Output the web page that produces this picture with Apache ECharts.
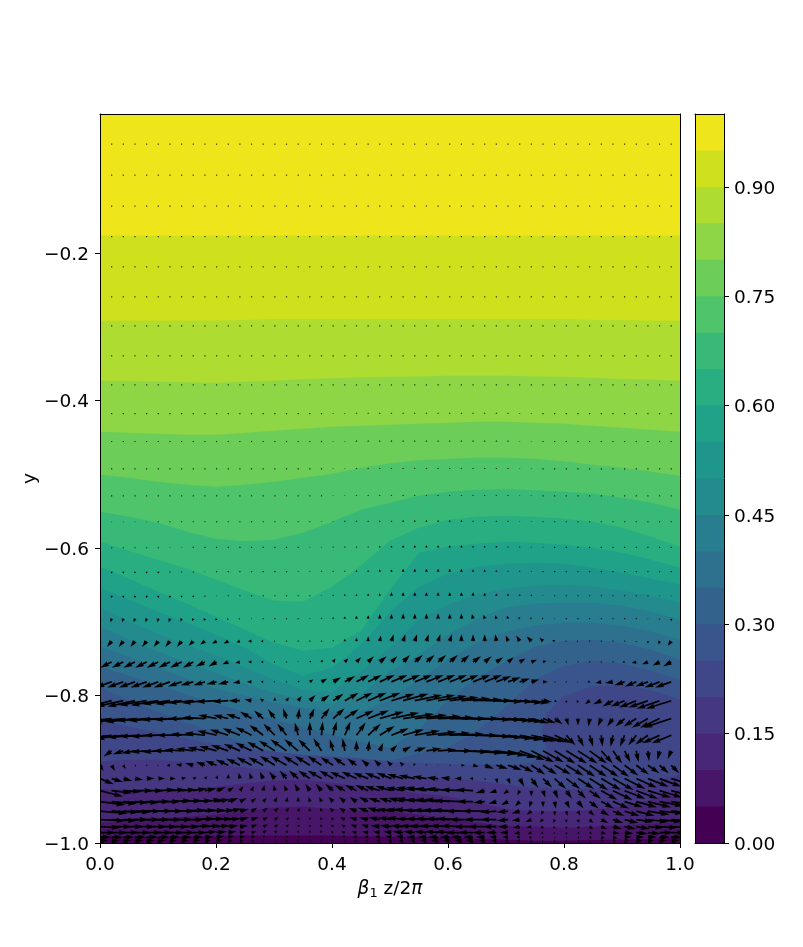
<!DOCTYPE html>
<html><head><meta charset="utf-8"><style>html,body{margin:0;background:#fff}#c{width:803px;height:947px}</style>
<script src="https://cdn.jsdelivr.net/npm/echarts@6/dist/echarts.min.js"></script></head>
<body><div id="c"></div>
<script>
const xTicks=[0,.2,.4,.6,.8,1];
const yTicks=[-1,-.8,-.6,-.4,-.2];
const cbTicks=[0,.15,.3,.45,.6,.75,.9];
const yTop=-0.0117;
const cbLevels=[0,.05,.1,.15,.2,.25,.3,.35,.4,.45,.5,.55,.6,.65,.7,.75,.8,.85,.9,.95,1];
const bandColors=['#440154','#481668','#482778','#453781','#3f4788','#39558c','#33638d','#2d718e','#287d8e','#238a8d','#1f968b','#1fa287','#28ae80','#38b977','#50c46a','#6dcd59','#8ed645','#aedc30','#cfe11c','#eee51b'];
// depth (−y) of each contour level at contourX
const contourX=[0,.05,.1,.15,.2,.25,.3,.35,.4,.45,.5,.55,.6,.65,.7,.75,.8,.85,.9,.95,1];
const b95=[.1763,.1763,.1763,.1763,.1763,.1763,.1763,.1763,.1763,.1763,.1763,.1763,.1763,.1763,.1763,.1763,.1763,.1763,.1763,.1763,.1763];
const b90=[.292,.292,.292,.292,.2915,.291,.290,.2895,.2895,.2895,.2895,.2895,.2895,.2895,.2895,.2895,.2895,.291,.291,.292,.292];
const b85=[.3735,.3741,.3748,.3755,.3762,.3748,.3735,.3714,.3701,.3687,.368,.3674,.3667,.3667,.3667,.3674,.368,.3694,.3708,.3721,.3735];
const b80=[.4425,.4439,.4452,.4466,.4466,.4439,.4412,.4385,.4358,.4344,.4331,.4317,.4304,.4290,.4290,.4304,.4317,.4344,.4371,.4398,.4425];
const b75=[.5008,.5049,.5103,.5144,.5171,.5144,.5103,.5049,.4995,.4913,.4852,.4811,.4791,.4777,.4777,.4791,.4825,.4873,.4913,.4967,.5022];
const b70=[.5510,.5577,.5659,.5781,.5876,.5910,.5889,.5795,.5645,.5483,.5388,.5293,.5239,.5212,.5205,.5218,.5239,.5266,.5320,.5388,.5483];
const b65=[.5916,.6038,.6160,.6282,.6431,.6580,.6716,.6729,.6526,.6241,.5903,.5726,.5618,.5577,.5564,.5577,.5604,.5645,.5726,.5848,.5984];
const b60=[.6255,.6417,.6594,.6756,.6932,.7108,.7285,.7393,.7352,.7122,.6567,.6065,.5984,.5943,.5916,.5930,.5957,.5998,.6065,.6160,.6268];
const b55=[.6539,.6702,.6865,.7014,.7176,.7352,.7583,.7732,.7624,.7312,.6865,.6526,.6350,.6255,.6214,.6201,.6214,.6268,.6336,.6417,.6499];
const b50=[.6810,.7000,.7163,.7312,.7461,.7624,.7786,.7922,.7949,.7678,.7352,.6973,.6770,.6634,.6553,.6512,.6499,.6526,.6580,.6648,.6743];
const b45=[.7068,.7244,.7407,.7556,.7692,.7841,.7963,.8057,.8111,.7990,.7678,.7447,.7176,.6959,.6810,.6756,.6743,.6743,.6783,.6865,.6973];
const b40=[.7339,.7474,.7624,.7773,.7908,.8003,.8098,.8165,.8220,.8220,.8057,.7786,.7515,.7285,.7136,.7054,.7014,.7014,.7054,.7136,.7244];
const b35=[.7610,.7732,.7854,.7990,.8111,.8220,.8328,.8423,.8531,.8626,.8707,.8463,.8057,.7759,.7542,.7339,.7258,.7244,.7285,.7380,.7515];
const b30=[.7895,.8057,.8220,.8369,.8504,.8653,.8762,.8829,.8843,.8870,.8883,.8788,.8707,.8477,.8152,.7786,.7596,.7529,.7569,.7664,.7786];
const b25x=[0,.05,.1,.15,.2,.25,.3,.35,.4,.45,.5,.55,.6,.65,.7,.747,.771,.762,.771,.798,.845,.902,.96,1];
const b25=[.8328,.8423,.8504,.8585,.8667,.8721,.8762,.8802,.8829,.8856,.8897,.8911,.8924,.8938,.8938,.8911,.8775,.8463,.8233,.8016,.7881,.7854,.7949,.8057];
const b20=[.8897,.8870,.8870,.8897,.8938,.8978,.9019,.9046,.9073,.9087,.9100,.9114,.9127,.9154,.9209,.9249,.9276,.9263,.9236,.9182,.9073];
const b15=[.9276,.9276,.9276,.9276,.9236,.9195,.9154,.9141,.9182,.9236,.9276,.9330,.9371,.9452,.9534,.9574,.9574,.9547,.9507,.9412,.9276];
const b10=[.9724,.9697,.9669,.9642,.9615,.9574,.9520,.9507,.9534,.9561,.9574,.9615,.9669,.9724,.9765,.9778,.9792,.9778,.9765,.9737,.9724];
const b05=[.9927,.9927,.9920,.9914,.9907,.9900,.9900,.9900,.9900,.9907,.9914,.9920,.9927,.9941,.9954,.9968,.9968,.9961,.9954,.9941,.9927];
const contours=[[contourX,b95,18],[contourX,b90,17],[contourX,b85,16],[contourX,b80,15],[contourX,b75,14],[contourX,b70,13],[contourX,b65,12],[contourX,b60,11],[contourX,b55,10],[contourX,b50,9],[contourX,b45,8],[contourX,b40,7],[contourX,b35,6],[contourX,b30,5],[b25x,b25,4],[contourX,b20,3],[contourX,b15,2],[contourX,b10,1],[contourX,b05,0]];

// quiver grid
const columnX=[0,.0201,.0402,.0603,.0804,.1005,.1206,.1407,.1608,.1809,.201,.2211,.2412,.2613,.2814,.3015,.3216,.3417,.3618,.3819,.402,.4221,.4422,.4623,.4824,.5025,.5226,.5427,.5628,.5829,.603,.6231,.6432,.6633,.6834,.7035,.7236,.7437,.7638,.7839,.804,.8241,.8442,.8643,.8844,.9045,.9246,.9447,.9648,.9849];
const rowY=[-.99911,-.99646,-.99203,-.98586,-.97792,-.96827,-.95689,-.94382,-.92907,-.91267,-.89466,-.87507,-.85394,-.83126,-.80708,-.78153,-.75458,-.72635,-.6959,-.6648,-.6322,-.5993,-.5645,-.5293,-.4927,-.4557,-.418,-.379,-.3396,-.2989,-.2596,-.219,-.178,-.1365,-.0946,-.0526];
const flatRow=[0,0,0,0,0,0,0,0,0,0,0,0,0,0,0,0,0,0,0,0,0,0,0,0,0,0,0,0,0,0,0,0,0,0,0,0,0,0,0,0,0,0,0,0,0,0,0,0,0,0];
const tickRow=[0,0,0,0,0,0,0,0,0,0,0,0,0,0,0,0,0,0,0,0,.5,.5,1,1,1,1,1,1,1,1,1,1,1,1,1,1,.5,.5,0,0,0,0,0,0,0,0,0,0,0,0];
const U1=[4,4,4,4,4,3,3,3,3,3,3,2,2,1,1,1,0,0,0,0,-1,-1,-1,-1,-2,-2,-2,-2,-3,-3,-3,-3,-3,-3,-2,-2,-1,-1,-1,0,0,1,1,1,2,2,3,3,3,4];
const U2=[7,7,7,7,7,6,6,6,6,5,5,4,3,2,1,1,0,0,0,0,-1,-1,-2,-2,-3,-3,-4,-4,-5,-6,-6,-6,-6,-5,-4,-3,-2,-1,-1,0,0,1,1,2,3,4,5,5,6,7];
const U3=[10,10,10,10,10,10,9,9,9,8,7,5,4,3,2,1,1,0,0,0,-1,-2,-3,-3,-4,-5,-6,-7,-8,-9,-9,-10,-9,-8,-6,-5,-3,-2,-1,0,0,1,2,3,4,6,7,8,9,10];
const V3=[0,0,0,0,0,0,0,0,0,0,1,1,1,1,1,1,1,1,1,1,1,1,1,1,1,1,1,0,0,0,0,0,0,0,0,0,0,-1,-1,-1,-1,-1,-1,-1,-1,0,0,0,0,0];
const U4=[14,14,14,14,14,13,13,12,12,11,9,7,5,4,3,2,1,0,0,-1,-2,-3,-4,-5,-6,-7,-9,-10,-11,-12,-13,-14,-13,-11,-9,-7,-5,-3,-2,-1,0,1,2,4,6,8,10,11,12,13];
const V4=[0,0,0,0,0,0,0,0,0,1,1,1,1,1,2,2,2,2,2,2,1,1,1,1,1,1,1,1,1,1,1,0,0,0,0,0,-1,-1,-1,-1,-2,-1,-1,-1,-1,-1,-1,-1,0,0];
const U5=[18,18,18,18,18,17,17,16,15,14,12,9,7,5,4,3,2,1,0,-1,-2,-3,-5,-6,-8,-10,-11,-13,-15,-16,-17,-18,-17,-15,-12,-9,-6,-4,-2,-1,0,1,3,5,8,10,12,14,16,17];
const V5=[-1,0,0,0,0,0,0,0,1,1,1,1,1,2,2,2,2,2,2,2,2,2,2,2,1,1,1,1,1,1,1,1,0,0,0,0,-1,-1,-2,-2,-2,-2,-2,-2,-2,-2,-2,-1,-1,-1];
const U6=[22,22,22,22,21,21,20,20,19,17,14,11,8,6,4,3,2,1,0,-1,-2,-4,-6,-8,-10,-12,-14,-16,-18,-20,-21,-22,-21,-18,-14,-10,-7,-5,-3,-1,0,1,3,6,9,12,15,18,20,21];
const V6=[-1,-1,0,0,0,0,0,0,1,1,1,1,2,2,2,2,2,2,2,2,2,2,2,2,2,2,2,1,1,1,1,1,0,0,0,-1,-1,-2,-2,-3,-3,-3,-3,-3,-3,-3,-2,-2,-2,-1];
const U7=[24,24,24,23,23,22,22,21,20,18,16,12,8,5,4,3,2,1,0,-1,-3,-5,-7,-9,-11,-13,-15,-18,-20,-22,-24,-25,-24,-20,-14,-10,-7,-4,-2,0,1,2,4,7,10,13,16,19,21,23];
const V7=[-2,-1,-1,0,0,0,0,1,1,1,1,2,2,3,3,3,3,3,3,3,3,3,3,3,3,2,2,2,1,1,1,1,0,0,-1,-1,-2,-3,-3,-4,-4,-4,-4,-4,-4,-4,-4,-3,-2,-2];
const U8=[22,22,22,21,21,20,19,18,17,15,12,9,6,4,3,2,1,0,-1,-2,-4,-5,-6,-8,-10,-11,-13,-16,-18,-20,-22,-24,-14,-10,-7,-6,-4,-2,0,1,3,5,8,11,14,16,18,20,21,22];
const V8=[-3,-2,-1,-1,0,0,1,1,1,2,2,3,3,3,3,4,4,4,4,4,4,4,4,4,3,3,3,3,2,2,2,1,0,-1,-2,-3,-4,-5,-5,-6,-6,-6,-6,-6,-6,-5,-5,-5,-4,-3];
const U9=[20,18,16,16,15,15,14,13,12,10,8,5,3,2,1,-1,-2,-3,-4,-5,-7,-9,-10,-11,-13,-14,-15,-16,-18,-20,-20,-18,-15,-8,-6,-4,-2,0,2,3,5,7,10,14,17,18,19,20,20,20];
const V9=[-5,-2,-1,0,0,1,1,1,2,2,3,3,4,4,5,5,5,6,6,6,6,5,5,5,4,4,3,3,3,2,2,1,1,-2,-2,-3,-4,-5,-6,-7,-7,-7,-7,-8,-8,-7,-7,-6,-6,-5];
const U10=[12,10,8,7,7,6,5,4,3,2,1,0,-1,-2,-3,-5,-6,-8,-10,-12,-12,-13,-13,-13,-13,-13,-14,-14,-12,-10,-8,-6,-3,1,1,2,4,6,8,10,12,14,16,17,18,18,18,18,19,20];
const V10=[-5,-3,-2,-1,0,0,0,1,1,2,3,4,5,5,6,6,7,7,7,7,7,6,6,5,5,5,4,3,2,1,1,0,0,-1,-4,-5,-7,-8,-8,-9,-9,-9,-10,-10,-10,-9,-8,-7,-7,-6];
const U11=[3,3,2,1,0,-1,-3,-5,-7,-8,-10,-11,-12,-13,-13,-13,-14,-13,-13,-12,-11,-10,-8,-6,-5,-4,-3,-1,0,0,1,3,5,8,10,12,12,12,12,14,15,15,15,15,14,12,11,10,8,7];
const V11=[-5,-5,-3,-1,0,0,0,1,2,3,4,5,6,7,7,8,8,8,8,8,7,7,6,5,5,4,3,2,1,.5,0,0,-1,-3,-3,-4,-6,-8,-8,-8,-9,-10,-10,-10,-10,-9,-8,-7,-7,-7];
const U12=[-7,-7,-9,-12,-14,-14,-15,-15,-15,-15,-15,-15,-14,-14,-14,-14,-14,-12,-10,-7,-3,-2,0,1,3,5,7,10,13,16,20,24,26,27,26,24,22,20,18,18,18,17,15,10,8,5,2,1,-2,-3];
const V12=[-5,-5,-3,-2,-1,-1,0,1,2,3,4,5,6,7,8,9,10,10,10,11,10,11,9,9,7,5,4,3,2,1,0,-1,-2,-3,-4,-6,-8,-10,-10,-11,-11,-11,-11,-11,-11,-10,-10,-9,-8,-7];
const U13=[-24,-24,-24,-24,-24,-24,-23,-22,-20,-18,-17,-16,-15,-14,-12,-10,-8,-3,0,1,3,5,8,11,13,15,18,22,26,28,30,32,33,33,32,30,28,24,20,15,8,5,3,1,-2,-4,-7,-11,-15,-17];
const V13=[-3,-3,-3,-2,-1,-1,0,0,1,2,4,5,6,7,9,10,10,11,12,12,12,12,11,10,8,6,5,4,3,2,1,0,-1,-2,-3,-4,-5,-5,-6,-7,-9,-10,-10,-10,-10,-10,-9,-8,-7,-7];
const U14=[-26,-26,-26,-26,-26,-26,-25,-24,-22,-20,-16,-13,-12,-10,-8,-6,-3,1,4,7,10,12,15,18,21,24,27,28,30,31,32,33,33,33,30,25,20,15,11,7,2,0,-1,-3,-5,-8,-11,-14,-17,-24];
const V14=[-3,-3,-3,-3,-2,-2,-1,-1,0,1,3,3,4,6,7,8,9,9,9,9,9,8,7,7,6,5,4,3,2,1,0,0,-1,-1,-2,-2,-3,-4,-4,-5,-6,-6,-7,-7,-7,-7,-7,-8,-8,-8];
const U15=[-24,-24,-24,-24,-24,-24,-24,-23,-22,-20,-18,-14,-10,-6,-3,0,2,3,5,7,9,12,14,16,18,20,22,24,25,25,25,25,25,24,23,22,20,16,8,2,0,-1,-4,-7,-9,-12,-15,-17,-20,-22];
const V15=[-6,-6,-5,-5,-4,-4,-3,-3,-2,-2,-1,-1,0,1,2,3,3,4,5,5,6,7,7,7,7,6,6,5,5,4,3,2,1,0,-1,-1,-2,-2,-1,-1,-2,-2,-3,-3,-5,-5,-6,-6,-7,-7];
const U16=[-14,-14,-14,-14,-14,-14,-14,-12,-11,-10,-9,-9,-6,-4,-2,-1,0,1,3,5,7,9,11,12,13,14,15,15,15,15,15,15,15,15,13,11,9,7,4,1,0,-.5,-2,-5,-7,-9,-10,-11,-13,-14];
const V16=[-5,-5,-5,-5,-5,-5,-5,-4,-3,-3,-2,-2,-1,0,0,0,0,1,2,3,4,5,6,6,6,6,6,6,6,6,6,6,6,6,5,4,3,2,0,0,0,0,0,-1,-1,-3,-4,-4,-5,-5];
const U17=[-10,-10,-10,-10,-10,-10,-10,-10,-9,-8,-7,-5,-4,-3,-2,-1,0,0,1,1,2,3,4,5,6,5,6,7,7,7,7,7,7,6,6,5,5,5,3,1,0,0,0,0,0,-2,-4,-5,-6,-7];
const V17=[-5,-5,-5,-5,-5,-5,-5,-5,-5,-4,-4,-2,-1,0,0,0,0,.5,1,2,3,3,4,5,5,5,6,6,6,6,6,6,5,5,4,4,3,2,1,0,0,0,0,0,0,0,-1,-2,-3,-4];
const U18=[-4,-4,-4,-4,-4,-4,-4,-4,-4,-4,-4,-4,-3,-3,-2,-1,0,0,0,0,0,0,0,0,1,2,2,2,2,2,2,0,0,0,-1,-2,-3,-4,-3,-2,-1,-1,0,0,0,0,0,0,-1,-3];
const V18=[-5,-5,-5,-5,-5,-5,-5,-5,-4,-3,-2,-2,-1,0,0,0,0,0,0,0,1,2,3,4,5,6,6,6,6,6,6,6,6,6,6,5,5,4,3,1,0,0,0,0,0,0,-1,-2,-3,-4];
const U19=[-1,-1,-1,-1,-1,-1,-1,-1,-1,-1,-1,-1,-1,-.5,0,0,0,0,0,0,0,0,0,0,0,0,0,0,0,0,0,0,-1,-1,-1,-1,-1,-1,-1,-.5,0,0,0,0,0,0,0,0,0,0];
const V19=[-3,-3,-3,-3,-3,-3,-3,-2.5,-2,-2,-1.5,-1,-.5,0,0,0,0,0,.5,1,1.5,2,2.5,3,4,4,4.5,4.5,4.5,4.5,4.5,4.5,4,3.5,3,2.5,1.5,1,.5,0,0,0,0,0,0,0,0,-.5,-1,-2];
const V20=[-2,-2,-2,-2,-2,-2,-2,-1.5,-1.5,-1,-.5,0,0,0,0,0,0,0,0,.5,1,1.5,1.5,2,2,3,3,3,3,3,3,3,3,2.5,2,2,1.5,1,.5,0,0,0,0,0,0,0,0,0,-.5,-.5];
const V21=[-1.5,-1.5,-1.5,-1.5,-1.5,-1.5,-1,-1,-1,-.5,0,0,0,0,0,0,0,.5,.5,1,1,1,1.5,1.5,2,2,2.5,2.5,2.5,2.5,2.5,2.5,2,2,1.5,1,1,.5,0,0,0,0,0,0,0,0,0,0,0,0];
const V22=[-1,-1,-1,-1,-1,-1,-.5,-.5,0,0,0,0,0,0,0,0,0,0,.5,.5,1,1,1,1,1.5,1.5,2,2,2,2,2,2,1.5,1.5,1.5,1,1,.5,.5,0,0,0,0,0,0,0,0,0,0,0];
const V23=[-.5,-.5,-.5,-.5,-.5,0,0,0,0,0,0,0,0,0,0,0,0,0,0,.5,.5,1,1,1,1,1,1.5,1.5,1.5,1.5,1.5,1.5,1,1,1,1,.5,.5,0,0,0,0,0,0,0,0,0,0,0,0];
const rowsU=[U1,U2,U3,U4,U5,U6,U7,U8,U9,U10,U11,U12,U13,U14,U15,U16,U17,U18,U19,flatRow,flatRow,flatRow,flatRow,flatRow,flatRow,flatRow,flatRow,flatRow,flatRow,flatRow,flatRow,flatRow,flatRow,flatRow,flatRow,flatRow];
const rowsV=[flatRow,flatRow,V3,V4,V5,V6,V7,V8,V9,V10,V11,V12,V13,V14,V15,V16,V17,V18,V19,V20,V21,V22,V23,tickRow,tickRow,tickRow,tickRow,flatRow,flatRow,flatRow,flatRow,flatRow,flatRow,flatRow,flatRow,flatRow];

const quiver=[];
rowY.forEach((y,r)=>columnX.forEach((x,c)=>quiver.push([x,y,rowsU[r][c],rowsV[r][c]])));

const FONT='"DejaVu Sans"';
const SCALE=1.15,HW=.95,HH=2.9,HL=9,HA=8.1;
function arrowItem(params,api){
  const p=api.coord([api.value(0),api.value(1)]);
  const u=api.value(2)*SCALE,v=api.value(3)*SCALE,L=Math.hypot(u,v);
  if(L<.3){return {type:'rect',shape:{x:p[0]-.6,y:p[1]-.6,width:1.2,height:1.2},style:{fill:'#000',opacity:.8}};}
  const dx=u/L,dy=-v/L,nx=-dy,ny=dx;
  const s=Math.min(1,L/HL),ws=Math.max(Math.sqrt(s)*.9,.3);
  const len=Math.max(L,HL);
  const P=[[0,-HW],[len-HA,-HW],[len-HL,-HH],[len,0],[len-HL,HH],[len-HA,HW],[0,HW]].map(q=>{
    const a=q[0]*s,b=q[1]*Math.min(1,ws);return [p[0]+dx*a+nx*b,p[1]+dy*a+ny*b];});
  return {type:'polygon',shape:{points:P},style:{fill:'#000'}};
}
function contourItem(params,api){
  const c=contours[api.value(0)],xs=c[0],ds=c[1];
  const P=xs.map((x,i)=>api.coord([x,-ds[i]]));
  P.push(api.coord([1,-1]));P.push(api.coord([0,-1]));
  return {type:'polygon',shape:{points:P},style:{fill:bandColors[c[2]]}};
}
function bgItem(params,api){
  const a=api.coord([0,yTop]),b=api.coord([1,-1]);
  return {type:'rect',shape:{x:a[0],y:a[1],width:b[0]-a[0],height:b[1]-a[1]},style:{fill:bandColors[19]}};
}
function cbItem(params,api){
  const i=api.value(0);
  const a=api.coord([0,cbLevels[i+1]]),b=api.coord([1,0]);
  return {type:'rect',shape:{x:a[0],y:a[1],width:b[0]-a[0],height:b[1]-a[1]},style:{fill:bandColors[i]}};
}
const lbl={color:'#000',fontFamily:FONT,fontSize:18.5};
const lowered={a:{color:'#000',fontFamily:FONT,fontSize:18.5,padding:[4,0,0,0]}};
const tick={length:5,lineStyle:{color:'#000',width:1}};
const line={show:true,onZero:false,lineStyle:{color:'#000',width:1}};
const frame=(extra)=>Object.assign({type:'value',z:10,axisLine:line,axisTick:{show:false},axisLabel:{show:false},splitLine:{show:false}},extra);
const fmt1=v=>v.toFixed(1).replace('-','\u2212');
const chart=echarts.init(document.getElementById('c'),null,{renderer:'canvas'});
chart.setOption({
  animation:false,backgroundColor:'#fff',
  grid:[{left:100,top:114,width:580,height:729},{left:695,top:114,width:29,height:729}],
  xAxis:[
    frame({gridIndex:0,position:'bottom',min:0,max:1,interval:.2,axisTick:Object.assign({show:true},tick),
      axisLabel:Object.assign({show:true,margin:13,formatter:fmt1},lbl),
      name:'{i|\u03b2}{s|1}{n| z/2}{i|\u03c0}',nameLocation:'middle',nameGap:36,
      nameTextStyle:{rich:{i:{fontFamily:FONT,fontSize:18.5,fontStyle:'italic',color:'#000'},n:{fontFamily:FONT,fontSize:18.5,color:'#000'},s:{fontFamily:FONT,fontSize:13,color:'#000',padding:[8,0,0,0]}}}}),
    frame({gridIndex:0,position:'top',min:0,max:1}),
    frame({gridIndex:1,position:'bottom',min:0,max:1}),
    frame({gridIndex:1,position:'top',min:0,max:1})
  ],
  yAxis:[
    frame({gridIndex:0,position:'left',min:-1,max:yTop,interval:.2,
      axisTick:Object.assign({show:true,customValues:yTicks},tick),
      axisLabel:Object.assign({show:true,margin:11,customValues:yTicks,rich:lowered,formatter:v=>'{a|'+fmt1(v)+'}'},lbl),
      name:'y',nameLocation:'middle',nameGap:60,nameMoveOverlap:false,nameTextStyle:{fontFamily:FONT,fontSize:18.5,color:'#000'}}),
    frame({gridIndex:0,position:'right',min:-1,max:yTop}),
    frame({gridIndex:1,position:'left',min:0,max:1}),
    frame({gridIndex:1,position:'right',min:0,max:1,interval:.15,
      axisTick:Object.assign({show:true,customValues:cbTicks},tick),
      axisLabel:Object.assign({show:true,margin:10,customValues:cbTicks,rich:lowered,formatter:v=>'{a|'+v.toFixed(2)+'}'},lbl)})
  ],
  series:[
    {type:'custom',xAxisIndex:0,yAxisIndex:0,clip:true,silent:true,z:1,renderItem:bgItem,data:[[0]],encode:{x:0,y:0}},
    {type:'custom',xAxisIndex:0,yAxisIndex:0,clip:true,silent:true,z:2,renderItem:contourItem,data:contours.map((c,i)=>[i]),encode:{x:-1,y:-1}},
    {type:'custom',xAxisIndex:0,yAxisIndex:0,clip:true,silent:true,z:3,renderItem:arrowItem,data:quiver,encode:{x:0,y:1},progressive:0},
    {type:'custom',xAxisIndex:2,yAxisIndex:2,clip:true,silent:true,z:2,renderItem:cbItem,data:bandColors.map((c,i)=>[19-i]),encode:{x:-1,y:-1}}
  ]
});
</script></body></html>
